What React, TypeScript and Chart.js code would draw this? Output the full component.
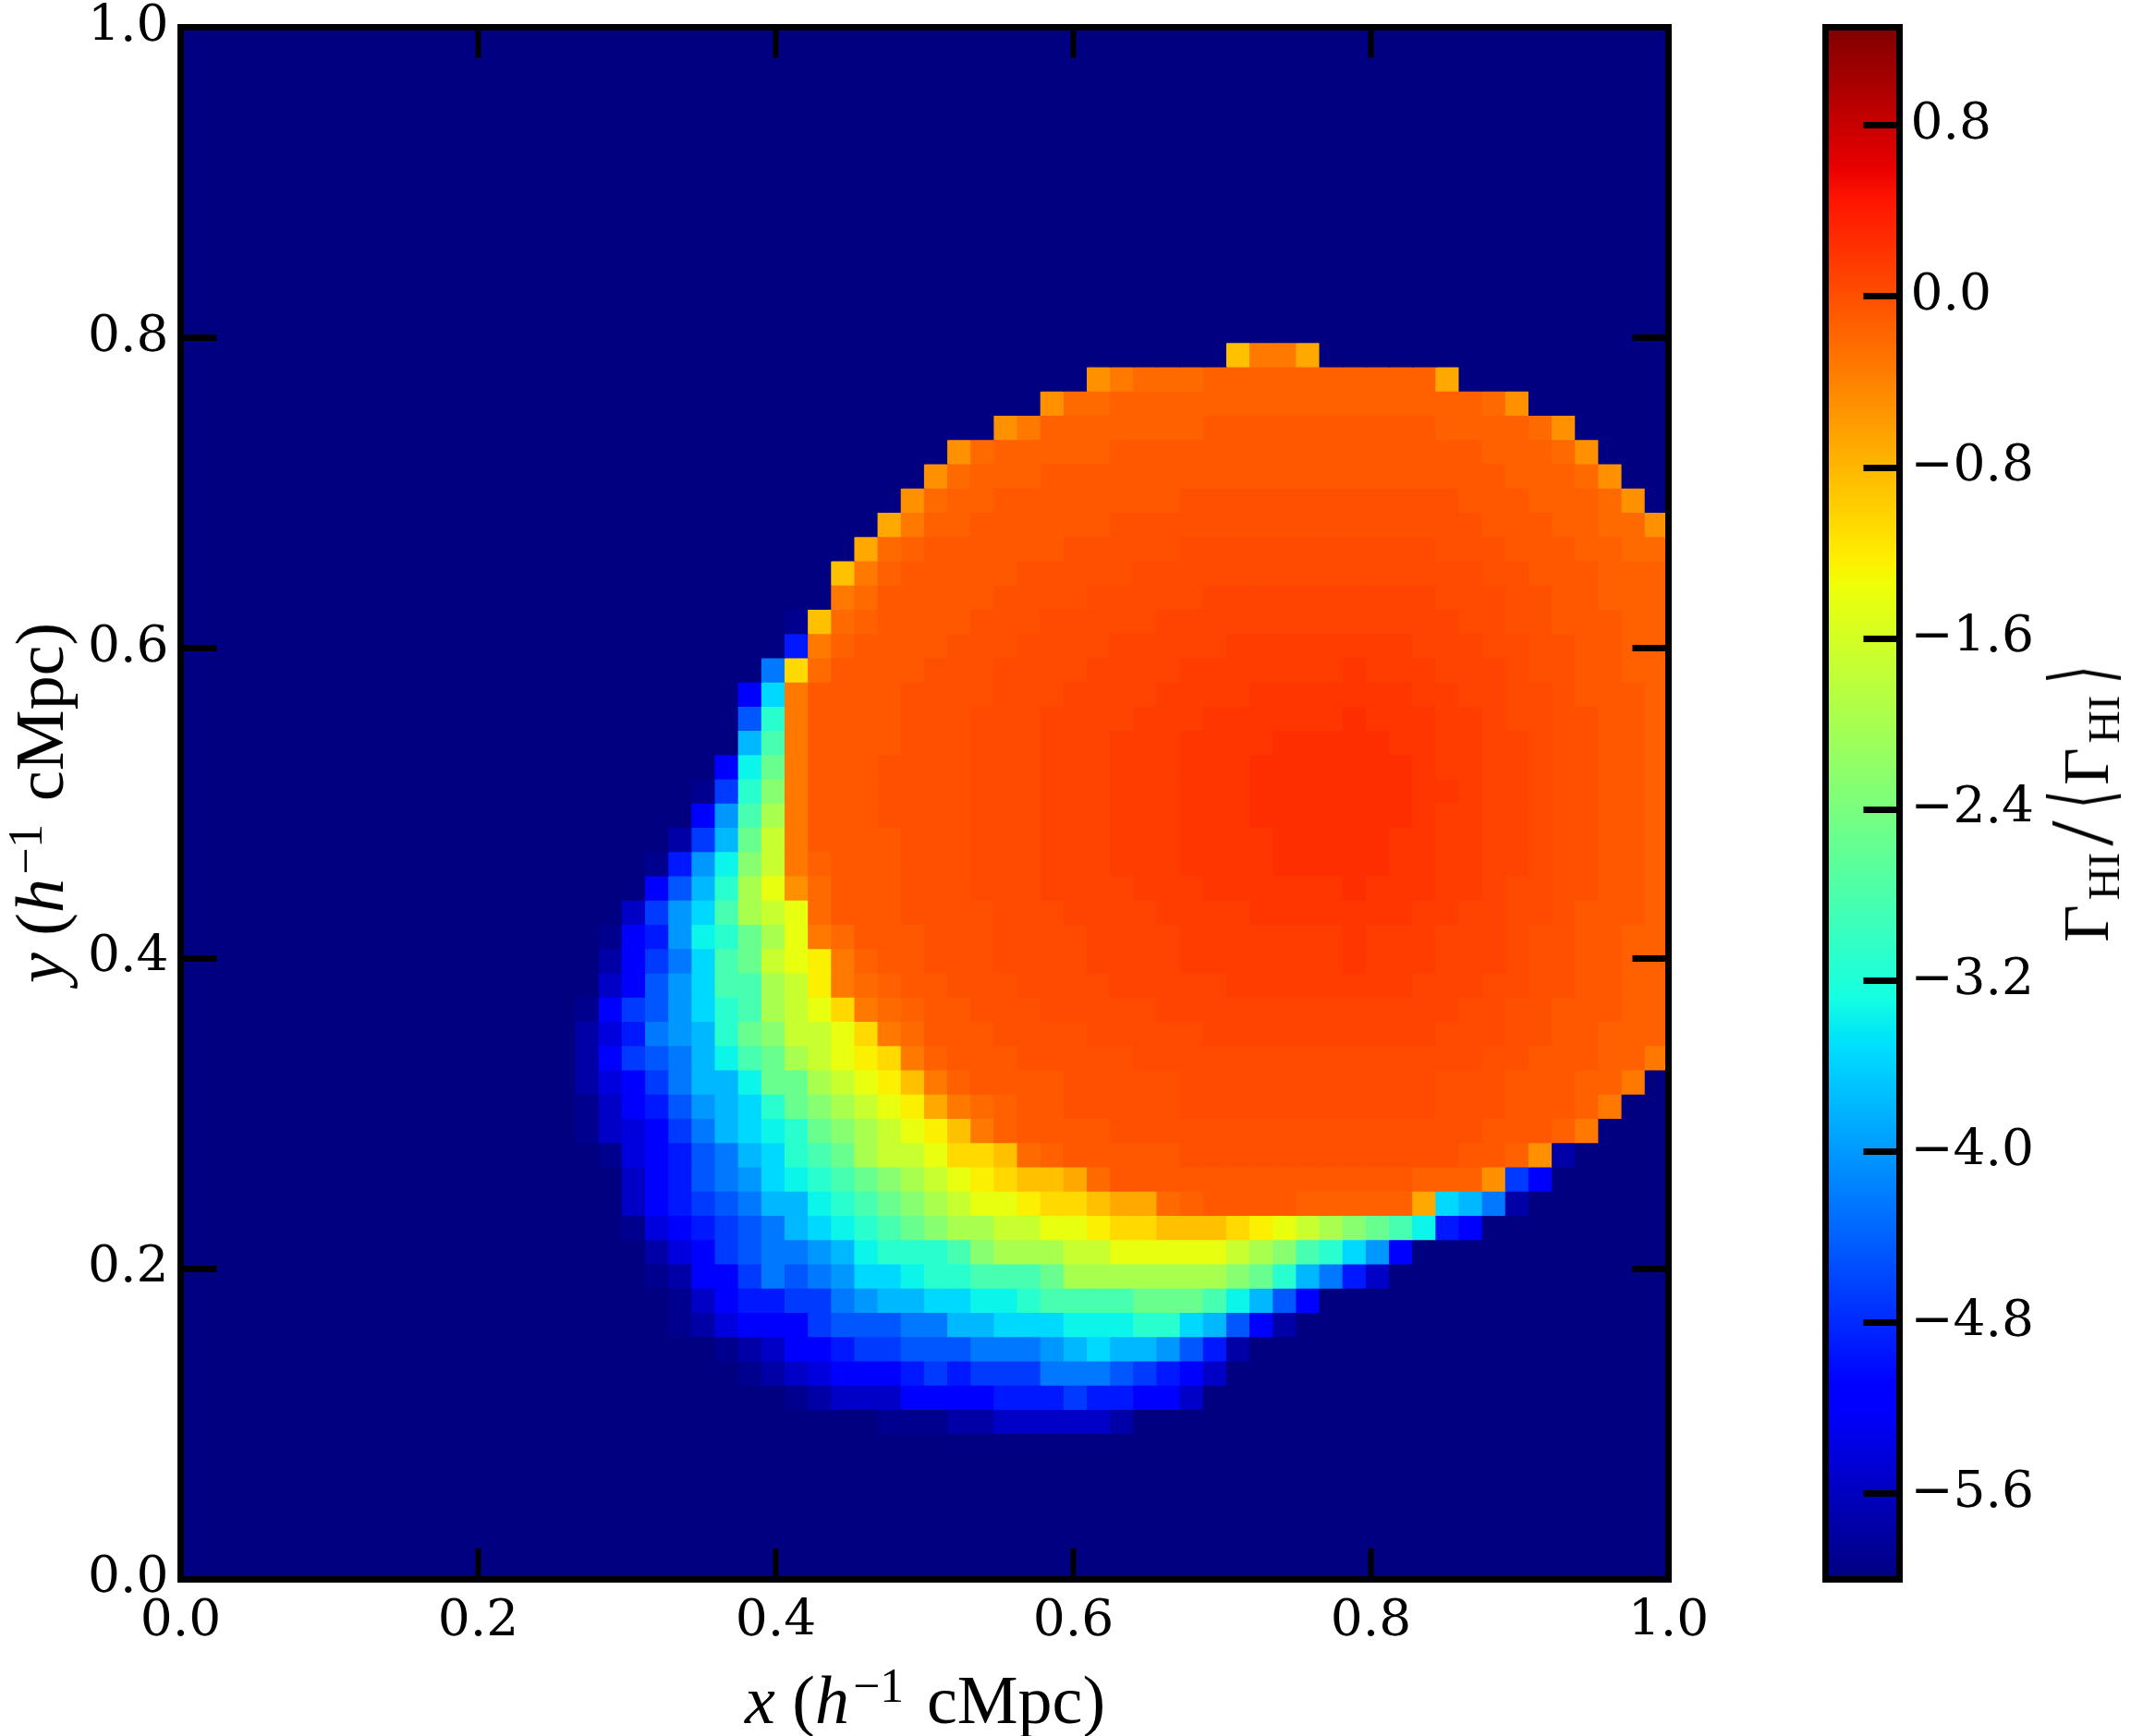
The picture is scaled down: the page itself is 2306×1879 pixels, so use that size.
import React, { useEffect, useRef } from "react";
import { Chart, registerables } from "chart.js";

Chart.register(...registerables);

const X_TICKS = [0, 0.2, 0.4, 0.6, 0.8, 1];
const Y_TICKS = [0, 0.2, 0.4, 0.6, 0.8, 1];
const CBAR_TICKS = [-5.6, -4.8, -4, -3.2, -2.4, -1.6, -0.8, 0, 0.8];
const CBAR_RANGE = [-6, 1.26];

// Each character of a row stands for one of these values of log(Gamma / <Gamma>).
const LEVEL_CHARS = ".abcdefghijklmnopqrstuvwxyzABCDEFGHI";
const LEVEL_VALUES = [
  -6, -5.9, -5.75, -5.55, -5.4, -5.2, -4.92, -4.69, -4.47, -4.24, -4.01, -3.78,
  -3.55, -3.35, -3.1, -2.83, -2.54, -2.27, -1.97, -1.7, -1.41, -1.24, -1.06, -0.87,
  -0.69, -0.5, -0.32, -0.21, -0.13, -0.07, -0.01, 0.04, 0.09, 0.14, 0.19, 0.25,
];

// 64 rows from the top of the image down; groups of 8 cells; missing cells are background.
const GRID_ROWS = [
  "", "", "", "", "", "", "", "", "", "", "", "", "",
  "........ ........ ........ ........ ........ .....wzz x",
  "........ ........ ........ ........ .......y zAAABBBB BBBBBBx.",
  "........ ........ ........ ........ .....yAA BBBBBBBB BBBBBBBB Ay......",
  "........ ........ ........ ........ ...yzBBB BBBBCCCC CCCCCCBB BBAy....",
  "........ ........ ........ ........ .yABBBBB CCCCCCCC CCCCCCCC BBBAy...",
  "........ ........ ........ ........ yABBBCCC CCCCCCCC CCCCCCCC CBBBAy..",
  "........ ........ ........ .......y ABBCCCCC CCCDDDDD DDDDDDDC CCBBBAy.",
  "........ ........ ........ ......xz BBCCCCCC DDDDDDDD DDDDDDDD CCCBBAAy",
  "........ ........ ........ .....xAB CCCCCCDD DDDEEEEE EEEEEEDD DCCCBBAA",
  "........ ........ ........ ....wzBC CCCCDDDD DEEEEEEE EEEEEEEE DDCCCBBB",
  "........ ........ ........ ....zACC CCCDDDDE EEEEFFFF FFFFFFEE EDDCCBBB",
  "........ ........ ........ ..awABCC CCDDDEEE EEFFFFFF FFFFFFFE EDDCCCBB",
  "........ ........ ........ ..fzBCCC CDDDEEEE FFFFFGGG GGGGGFFF EEDDCCBB",
  "........ ........ ........ .ivACCCC DDDEEEEF FFFGGGGG GGHGGGFF FEDDCCBB",
  "........ ........ ........ elzCCCCD DDDEEEFF FFGGGGHH HHHHHGGF FEEDCCCB",
  "........ ........ ........ hnzCCCCD DDEEEFFF FGGGHHHH HHIHHHGG FEEDDCCB",
  "........ ........ ........ kozCCCCD DDEEEFFF GGGHHHHI IIIIHHGG FFEDDCCB",
  "........ ........ .......e mpzCCCDD DDEEEFFF GGGHHHII IIIIIHGG FFEDDCCB",
  "........ ........ ......ag nqzCCCDD DDEEEFFF GGGHHHII IIIIIHHG FFEDDCCB",
  "........ ........ ......ej orzCCCDD DDEEEFFF GGGHHHII IIIIIHGG FFEDDCCB",
  "........ ........ .....bgk pszCCCCD DDEEEFFF GGGHHHHI IIIIHHGG FFEDDCCB",
  "........ ........ ....afjm qszBCCCD DDEEEFFF GGGHHHHI IIIIHHGG FFEDDCCB",
  "........ ........ ....ehkn rtyACCCD DDEEEFFF FGGGHHHH HHIHHHGG FEEDDCCB",
  "........ ........ ...cgjlo rstACCCD DDDEEEFF FFGGGGHH HHHHHGGF FEEDCCCB",
  "........ ........ ..aefjmn prtzACCC DDDEEEEF FFFGGGGG GGHGGGFF FEDDCCBB",
  "........ ........ ..begilo pstuzBCC DDDEEEEF FFFGGGGG GGHGGGFF FEDDCCBB",
  "........ ........ ..cehjlo orsuzABC CDDDEEEE FFFFFGGG GGGGGFFF EEDDCCBB",
  "........ ........ .aeghjln orstvzAB CCDDDEEE EEFFFFFF FFFFFFFE EDDCCCBB",
  "........ ........ .bdfijkn pqsstvzA CCCDDDDE EEEEFFFF FFFFFFEE EDDCCBBB",
  "........ ........ .beghikm oprstuvz BCCCDDDD DEEEEEEE EEEEEEEE DDCCCBBz",
  "........ ........ .bdegikk mpprstuw zBCCCCDD DDDEEEEE EEEEEEDD DCCCBBz.",
  "........ ........ .acefhjk lnpqrstu xzABCCDD DDDEEEEE EEEEEEDD DCCCBz..",
  "........ ........ .acdegik lmnpqrst uwzBCCCC DDDDDDDD DDDDDDDD CCCBz...",
  "........ ........ ..adefhi klnoprss tvvwABCC CCCDDDDD DDDDDDDC CByb....",
  "........ ........ ...cefhi jlmnopqr stuvwwxA CCCCCCCC CCCCCBBB yge.....",
  "........ ........ ...cefgh ikkmnopq rsttuvvw xxABCCCC BBBBBxlk ib......",
  "........ ........ ...adefg hiklmnop qrrssttu vvwwwvut srqpomfe",
  "........ ........ ....bdeg hiijkmnn noqrrrss tttttsrq onlje...",
  "........ ........ ....abee gihijllm nnoooprr rrrrrqpn kifc....",
  "........ ........ .....ace ffggijkk llmmnooo opppomkh e.......",
  "........ ........ .....abd eeeghhhi ikklllmm mnnlkheb",
  "........ ........ .......a bceefggh hhiiijkl kkjhfb..",
  "........ ........ ........ abcdeeef gfgggiii hgfec...",
  "........ ........ ........ ..abccce eeefffgf feec....",
  "........ ........ ........ ......aa abbccccc b.......",
  "", "", "", "", "", "",
];

const JET_R = [[0, 0], [0.35, 0], [0.66, 1], [0.89, 1], [1, 0.5]];
const JET_G = [[0, 0], [0.125, 0], [0.375, 1], [0.64, 1], [0.91, 0], [1, 0]];
const JET_B = [[0, 0.5], [0.11, 1], [0.34, 1], [0.65, 0], [1, 0]];

function channel(stops: number[][], t: number) {
  for (let i = 1; i < stops.length; i++) {
    if (t <= stops[i][0]) {
      const [a, va] = stops[i - 1];
      const [b, vb] = stops[i];
      return Math.round(255 * (va + ((vb - va) * (t - a)) / (b - a)));
    }
  }
  return Math.round(255 * stops[stops.length - 1][1]);
}

function jet(t: number) {
  const c = Math.min(1, Math.max(0, t));
  return `rgb(${channel(JET_R, c)},${channel(JET_G, c)},${channel(JET_B, c)})`;
}

function colorOf(value: number) {
  return jet((value - CBAR_RANGE[0]) / (CBAR_RANGE[1] - CBAR_RANGE[0]));
}

const TICK_FONT = { family: "'DejaVu Serif'", size: 55 };
const N = 64;
const COLUMN_LABELS = Array.from({ length: N }, (_, c) => String(c));

function cellValues(row: string) {
  return row
    .replace(/ /g, "")
    .padEnd(N, ".")
    .split("")
    .map((ch) => LEVEL_VALUES[LEVEL_CHARS.indexOf(ch)]);
}

function fix(prop: "width" | "height", size: number) {
  return (scale: any) => {
    scale[prop] = size;
    scale.paddingTop = 0;
    scale.paddingBottom = 0;
    scale.paddingLeft = 0;
    scale.paddingRight = 0;
  };
}

function frameGrid(tickLength: number, tickWidth: number, showTicks = true) {
  return {
    display: true,
    offset: false,
    drawOnChartArea: false,
    drawTicks: showTicks,
    tickLength,
    tickWidth,
    lineWidth: 7,
    color: "#000",
    z: 3,
  };
}

const frameBorder = { display: true, width: 7, color: "#000", z: 3 };

function linearFrame(axis: string, position: string, ticks: number[], size: number, prop: "width" | "height", tickLength: number, tickWidth: number, labelPadding: number | null, min = 0, max = 1) {
  return {
    type: "linear",
    axis,
    position,
    min,
    max,
    offset: false,
    afterFit: fix(prop, size),
    afterBuildTicks: (scale: any) => {
      scale.ticks = ticks.map((value) => ({ value }));
    },
    grid: frameGrid(tickLength, tickWidth, tickLength !== 0),
    border: frameBorder,
    ticks: {
      display: labelPadding !== null,
      padding: labelPadding ?? 0,
      autoSkip: false,
      maxRotation: 0,
      minRotation: 0,
      color: "#000",
      font: TICK_FONT,
      callback: (v: any) => (v < 0 ? "\u2212" : "") + Math.abs(Number(v)).toFixed(1),
    },
  };
}

const absText = (left: number, top: number, size: number, rotate = false): React.CSSProperties => ({
  position: "absolute",
  left,
  top,
  transform: `translate(-50%, -50%)${rotate ? " rotate(-90deg)" : ""}`,
  whiteSpace: "nowrap",
  fontFamily: "'Liberation Serif'",
  fontSize: size,
  lineHeight: 1,
  color: "#000",
});

const supStyle: React.CSSProperties = { fontSize: "0.7em", position: "relative", top: "-0.45em", margin: "0 0.12em 0 0.08em", lineHeight: 0 };
const subStyle: React.CSSProperties = { fontSize: "0.7em", position: "relative", top: "0.25em", margin: "0 7px 0 5px", lineHeight: 0 };
const slashStyle: React.CSSProperties = { fontSize: "1.4em", lineHeight: 0, position: "relative", top: "0.04em" };
const bracketStyle: React.CSSProperties = {
  display: "inline-block",
  fontSize: "1.3em",
  lineHeight: 0,
  fontFamily: "'DejaVu Serif'",
  transform: "scaleX(0.55)",
  width: "0.28em",
  textAlign: "center",
  position: "relative",
  top: "0.02em",
};

export default function App() {
  const mainRef = useRef<HTMLCanvasElement>(null);
  const barRef = useRef<HTMLCanvasElement>(null);

  useEffect(() => {
    const datasets = GRID_ROWS.map((row, r) => {
      const values = cellValues(row);
      return {
        data: values.map(() => [(N - 1 - r) / N, (N - r) / N]),
        backgroundColor: values.map(colorOf),
        borderWidth: 0,
        inflateAmount: 0.6,
        barPercentage: 1,
        categoryPercentage: 1,
        grouped: false,
        xAxisID: "x",
        yAxisID: "y",
      };
    });

    const main = new Chart(mainRef.current as HTMLCanvasElement, {
      type: "bar",
      data: { labels: COLUMN_LABELS, datasets } as any,
      options: {
        responsive: false,
        animation: false,
        devicePixelRatio: 1,
        layout: { padding: 0, autoPadding: false },
        plugins: { legend: { display: false }, tooltip: { enabled: false } },
        scales: {
          x: { type: "category", display: false, offset: true },
          x1: linearFrame("x", "bottom", X_TICKS, 170, "height", -33, 6, 47),
          x2: linearFrame("x", "top", X_TICKS, 29.5, "height", -33, 6, null),
          y: linearFrame("y", "left", Y_TICKS, 195.5, "width", -39, 7, 52),
          y2: linearFrame("y", "right", Y_TICKS, 94.5, "width", -39, 7, null),
        },
      } as any,
    });

    const bar = new Chart(barRef.current as HTMLCanvasElement, {
      type: "bar",
      data: {
        labels: ["colour"],
        datasets: [
          {
            data: [CBAR_RANGE],
            borderWidth: 0,
            barPercentage: 1,
            categoryPercentage: 1,
            xAxisID: "x",
            yAxisID: "y",
            backgroundColor: (ctx: any) => {
              const area = ctx.chart.chartArea;
              if (!area) return "#000";
              const g = ctx.chart.ctx.createLinearGradient(0, area.bottom, 0, area.top);
              const breaks = [...JET_R, ...JET_G, ...JET_B].map((s) => s[0]);
              Array.from(new Set(breaks)).forEach((t) => g.addColorStop(t, jet(t)));
              return g;
            },
          },
        ],
      } as any,
      options: {
        responsive: false,
        animation: false,
        devicePixelRatio: 1,
        layout: { padding: 0, autoPadding: false },
        plugins: { legend: { display: false }, tooltip: { enabled: false } },
        scales: {
          x: { type: "category", display: false, offset: true },
          x1: linearFrame("x", "bottom", [], 170, "height", 0, 0, null),
          x2: linearFrame("x", "top", [], 29.5, "height", 0, 0, null),
          y2: linearFrame("y", "left", [], 75.5, "width", 0, 0, null, CBAR_RANGE[0], CBAR_RANGE[1]),
          y: linearFrame("y", "right", CBAR_TICKS, 250.5, "width", -39, 7, 51, CBAR_RANGE[0], CBAR_RANGE[1]),
        },
      } as any,
    });

    return () => {
      main.destroy();
      bar.destroy();
    };
  }, []);

  return (
    <div style={{ position: "absolute", left: 0, top: 0, width: 2306, height: 1879, overflow: "hidden", background: "#fff" }}>
      <canvas ref={mainRef} width={1900} height={1879} style={{ position: "absolute", left: 0, top: 0, width: 1900, height: 1879 }} />
      <canvas ref={barRef} width={406} height={1879} style={{ position: "absolute", left: 1900, top: 0, width: 406, height: 1879 }} />
      <div style={absText(1001, 1840, 74)}>
        <i>x</i> (<i>h</i>
        <span style={supStyle}>{"\u22121"}</span> cMpc)
      </div>
      <div style={absText(43, 869, 74, true)}>
        <i>y</i> (<i>h</i>
        <span style={supStyle}>{"\u22121"}</span> cMpc)
      </div>
      <div style={absText(2258, 869.5, 70, true)}>
        {"\u0393"}
        <span style={subStyle}>HI</span>
        <span style={slashStyle}>/</span>
        <span style={{ ...bracketStyle, margin: "0 5px 0 8px" }}>{"\u27E8"}</span>
        {"\u0393"}
        <span style={subStyle}>HI</span>
        <span style={bracketStyle}>{"\u27E9"}</span>
      </div>
    </div>
  );
}
